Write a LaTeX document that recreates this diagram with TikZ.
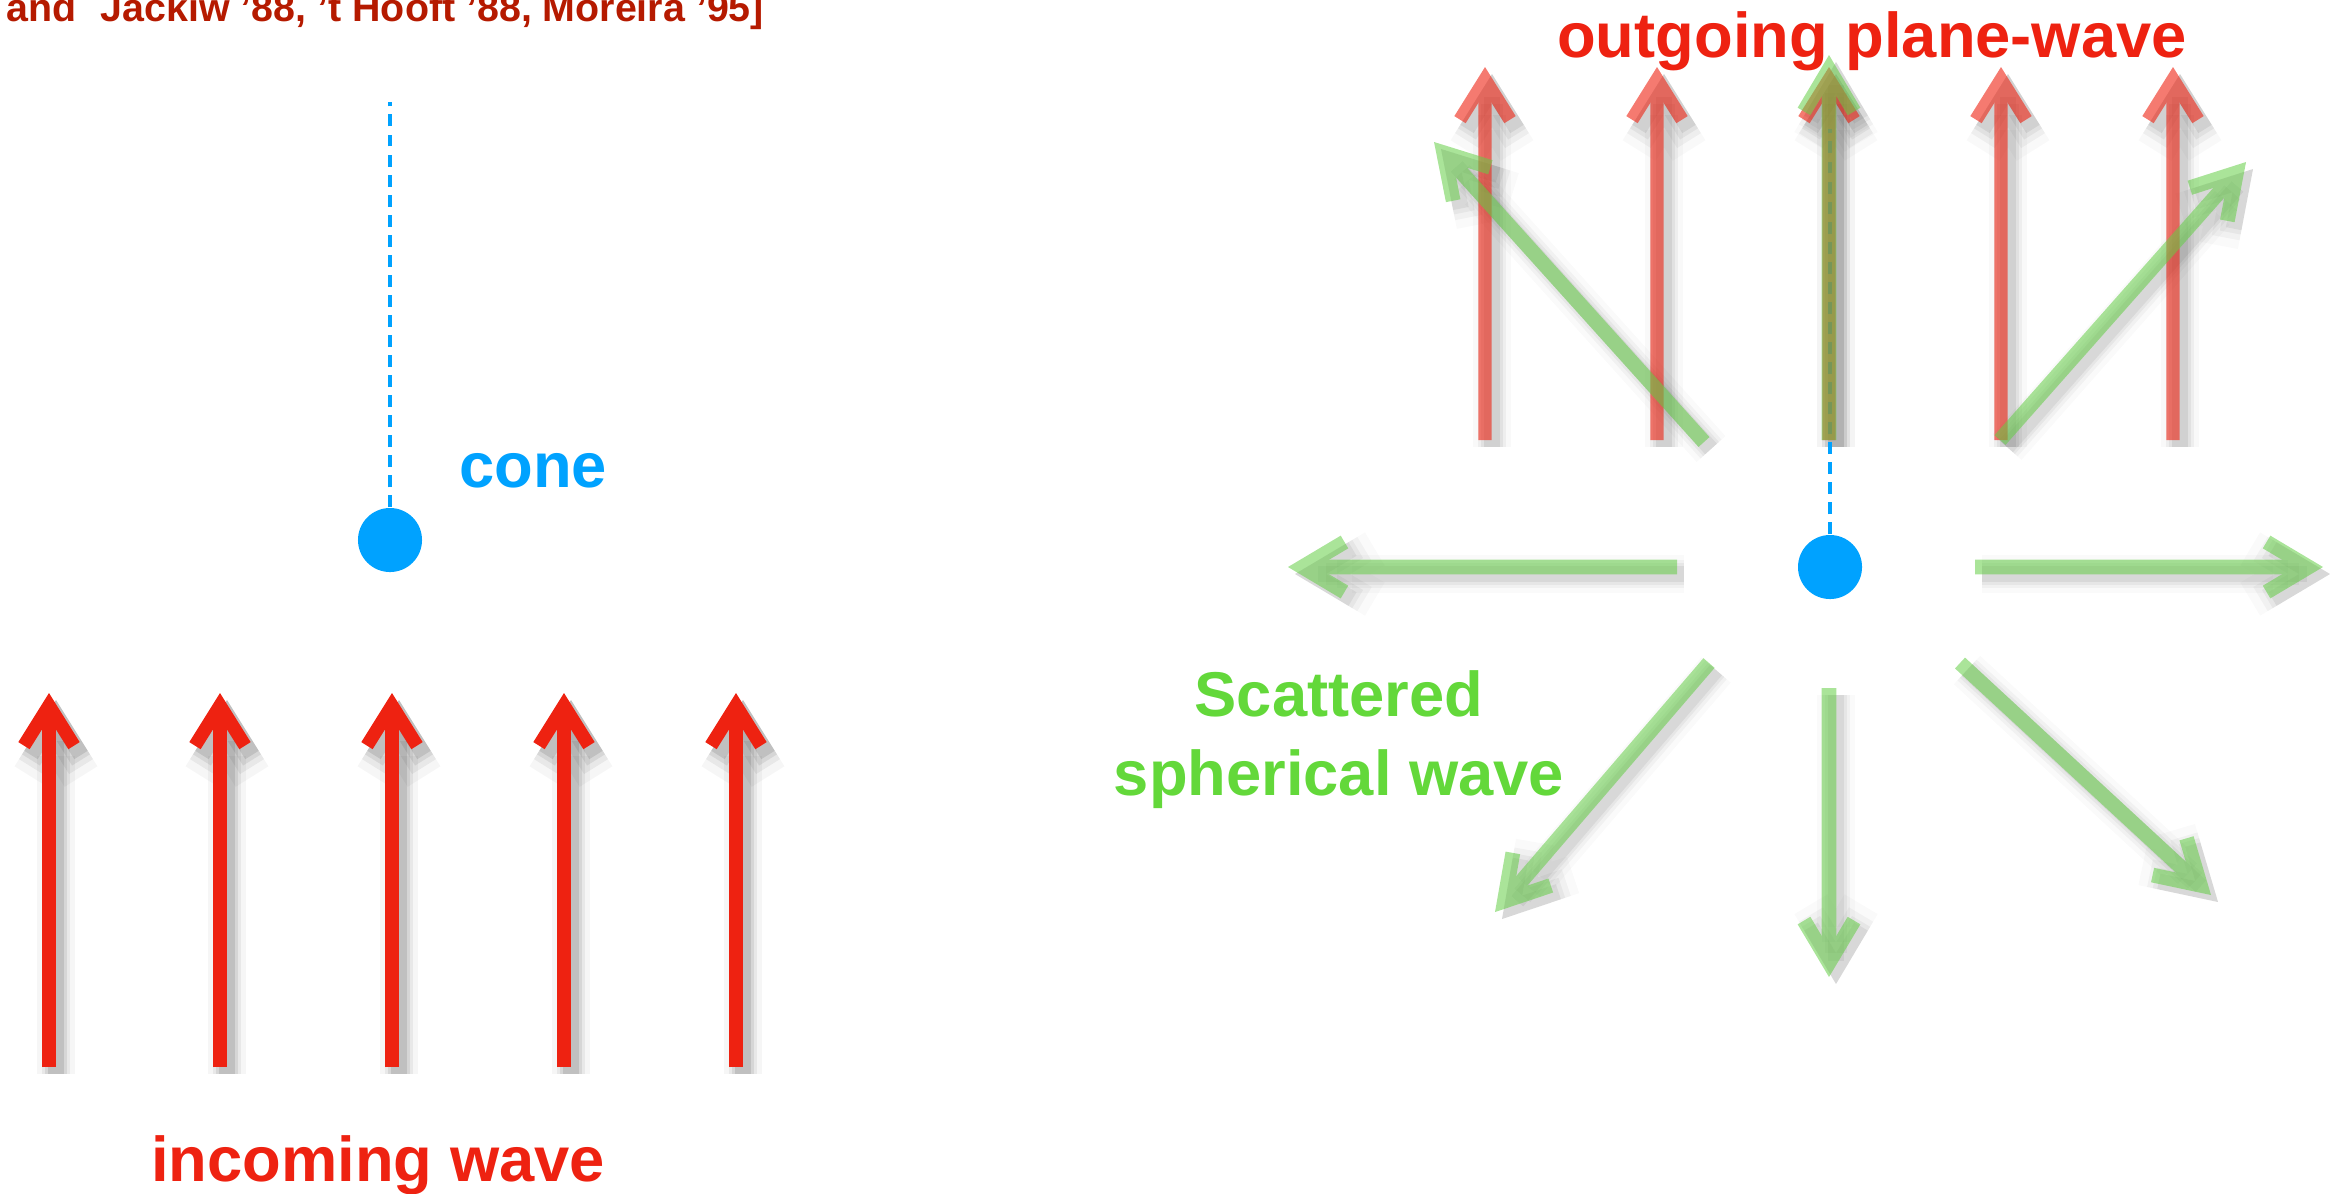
\documentclass[tikz,border=0pt]{standalone}
\usepackage{fontspec}
\setmainfont{Liberation Sans}
\usetikzlibrary{arrows.meta}
\definecolor{waveRed}{RGB}{238,34,17}
\definecolor{refRed}{RGB}{181,26,0}
\definecolor{coneBlue}{RGB}{0,162,255}
\definecolor{scatGreen}{RGB}{99,216,58}
\definecolor{arrowGreen}{RGB}{100,205,70}

\tikzset{
  redtip/.style={-{Straight Barb[sharp,length=0.4cm,width=0.5cm]}},
  greentip/.style={-{Straight Barb[sharp,length=0.42cm,width=0.5cm]}},
  inwave/.style={draw=waveRed,line width=3.8pt,redtip},
  outwave/.style={draw=waveRed,line width=3.8pt,redtip},
  scatwave/.style={draw=arrowGreen,line width=4.2pt,greentip},
  soft/.style={draw=black,opacity=#1,transform canvas={shift={(7,7)}}},
  coneline/.style={draw=coneBlue,line width=1.4pt,dash pattern=on 3.4pt off 2.3pt},
  conedot/.style={circle,fill=coneBlue,minimum size=0.64cm,inner sep=0pt},
  lbl/.style={font=\bfseries\fontsize{18}{22.2}\selectfont,inner sep=0pt,anchor=base},
}

\begin{document}
\begin{tikzpicture}[x=0.01cm,y=-0.01cm]
\path[use as bounding box,clip] (0,0) rectangle (2346,1193);

\node[lbl,anchor=base west,font=\bfseries\fontsize{11.2}{14}\selectfont,text=refRed] (refs) at (6,21) {and\hspace{0.24cm}Jackiw '88, 't Hooft '88, Moreira '95]};

\node[conedot] (cone1) at (390,540) {};
\node[conedot] (cone2) at (1830,567) {};
\coordinate (top1) at (390,102);
\coordinate (top2) at (1830,129);

\foreach \i/\x in {1/49,2/220,3/392,4/564,5/736}{
  \coordinate (in\i s) at (\x,1067);
  \coordinate (in\i e) at (\x,693);
}
\foreach \i/\x in {1/1485,2/1657,3/1829,4/2001,5/2173}{
  \coordinate (out\i s) at (\x,440);
  \coordinate (out\i e) at (\x,67);
}
\foreach \i/\a/\b in {1/{1829,440}/{1829,55},2/{1704,442}/{1434,142},3/{2000,440}/{2246,162},4/{1677,567}/{1288,567},5/{1975,567}/{2323,567},6/{1709,663}/{1495,912},7/{1829,688}/{1829,977},8/{1960,663}/{2211,895}}{
  \coordinate (sc\i s) at (\a);
  \coordinate (sc\i e) at (\b);
}

\foreach \w/\o in {11pt/0.035,8pt/0.06,6pt/0.08,4.5pt/0.1}{
  \foreach \i in {1,...,5}{
    \draw[soft=\o,line width=\w,redtip] (in\i s) -- (in\i e);
    \draw[soft=\o*0.7,line width=\w,redtip] (out\i s) -- (out\i e);
  }
  \foreach \i in {1,...,8}
    \draw[soft=\o*0.6,line width=\w,greentip] (sc\i s) -- (sc\i e);
}

\draw[coneline] (cone1) -- (top1);
\draw[coneline] (cone2) -- (top2);

\foreach \i in {1,...,5}
  \draw[inwave] (in\i s) -- (in\i e);
\foreach \i in {1,...,5}{
  \begin{scope}[transparency group,opacity=0.6]
    \draw[outwave] (out\i s) -- (out\i e);
  \end{scope}
}
\foreach \i in {1,...,8}{
  \begin{scope}[transparency group,opacity=0.55]
    \draw[scatwave] (sc\i s) -- (sc\i e);
  \end{scope}
}

\node[lbl,text=coneBlue] (conelbl) at (533,487) {cone};
\node[lbl,text=waveRed] (inlbl) at (378,1181) {incoming wave};
\node[lbl,text=waveRed] (outlbl) at (1872,57) {outgoing plane-wave};
\node[lbl,text=scatGreen,align=center] (scatlbl) at (1339,795) {Scattered\\spherical wave};
\end{tikzpicture}
\end{document}
